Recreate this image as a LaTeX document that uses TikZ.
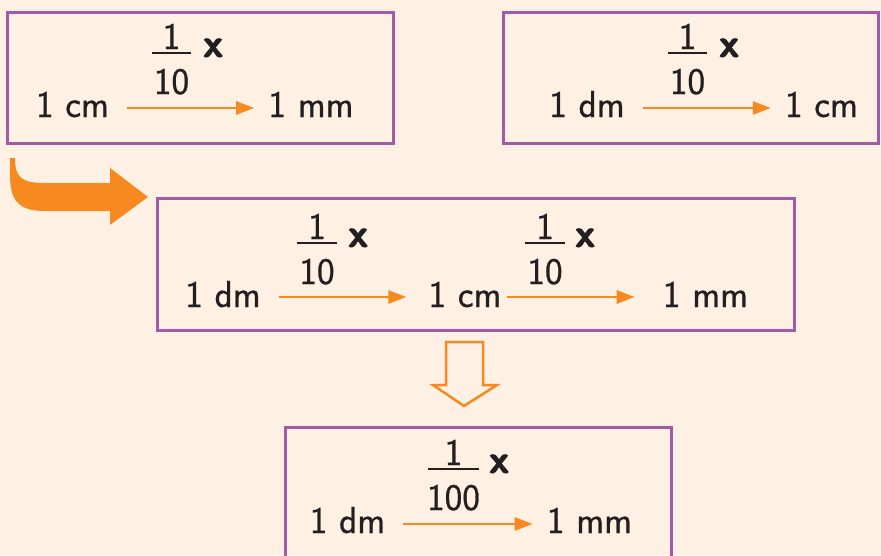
\documentclass[tikz,border=0pt]{standalone}
\usepackage{fontspec}
\usepackage{xcolor}
\usepackage{tikz}
\usetikzlibrary{positioning, arrows.meta, calc}
\newfontfamily\unitfont{Latin Modern Sans}[UprightFeatures={FakeBold=0.7}]
\newfontfamily\timesfont{Latin Modern Sans}[BoldFeatures={FakeBold=2}]
\definecolor{bgpeach}{HTML}{FEF0E3}
\definecolor{boxpurple}{HTML}{A35BA8}
\definecolor{convorange}{HTML}{F6891F}
\definecolor{inkblack}{HTML}{231F20}

\begin{document}
\begin{tikzpicture}[x=1pt, y=-1pt,
    unit/.style={font=\fontsize{37.5}{42}\unitfont, text=inkblack, inner sep=0pt, anchor=base},
    times/.style={font=\fontsize{40}{44}\timesfont\bfseries, text=inkblack, inner sep=0pt, anchor=base west},
    unitbox/.style={draw=boxpurple, line width=3pt},
    conv/.style={draw=convorange, line width=2.6pt, -{Triangle[length=18pt, width=13pt]},
      shorten <=18pt, shorten >=14pt},
    fracbar/.style={draw=inkblack, line width=2.2pt}]

    % page and background
    \useasboundingbox (0,0) rectangle (881,555);
    \clip (0,0) rectangle (881,555);
    \fill[bgpeach] (0,0) rectangle (881,555);

    % boxes
    \draw[unitbox] (7,12) rectangle (393,143);
    \draw[unitbox] (503,12) rectangle (878,143);
    \draw[unitbox] (157,198) rectangle (794,330);
    \draw[unitbox] (285,427) rectangle (671,575);

    % units
    \node[unit] (cm1) at (72.5,117) {1 cm};
    \node[unit] (mm1) at (311,117) {1 mm};
    \node[unit] (dm2) at (587,117) {1 dm};
    \node[unit] (cm2) at (821.5,117) {1 cm};
    \node[unit] (dm3) at (223,307) {1 dm};
    \node[unit] (cm3) at (465,307) {1 cm};
    \node[unit] (mm3) at (705.5,307) {1 mm};
    \node[unit] (dm4) at (347.5,533) {1 dm};
    \node[unit] (mm4) at (589.5,533) {1 mm};

    % conversions
    \draw[conv] ([yshift=9pt]cm1.base east) -- ([yshift=9pt]mm1.base west);
    \draw[conv] ([yshift=9pt]dm2.base east) -- ([yshift=9pt]cm2.base west);
    \draw[conv, shorten >=22pt] ([yshift=10pt]dm3.base east) -- ([yshift=10pt]cm3.base west);
    \draw[conv, shorten <=5pt, shorten >=28pt] ([yshift=10pt]cm3.base east) -- ([yshift=10pt]mm3.base west);
    \draw[conv] ([yshift=9pt]dm4.base east) -- ([yshift=9pt]mm4.base west);

    % factors
    \foreach \i/\cx/\yb/\hw/\den/\xx in {1/171.5/53/19.5/10/203, 2/687.5/53/19.5/10/719,
        3/317/243/20/10/348, 4/545/243/20/10/575, 5/453.5/469/25.5/100/489} {
      \node[unit] (num\i) at (\cx,\yb-4) {1};
      \node[unit] (den\i) at (\cx,\yb+41) {\den};
      \draw[fracbar] (\cx-\hw,\yb) -- (\cx+\hw,\yb);
      \node[times] (times\i) at (\xx,\yb+4) {x};
    }

    % bent arrow
    \fill[convorange] (10,158) -- (15,158) .. controls (15,178) and (22,183) .. (45,183)
      -- (110,183) -- (110,168) -- (148,197) -- (110,225) -- (110,211) -- (45,211)
      .. controls (18,211) and (10,200) .. (10,175) -- cycle;

    % hollow arrow
    \draw[convorange, line width=2.5pt, fill=bgpeach] (446,342) -- (483,342) -- (483,385)
      -- (497,385) -- (464,406) -- (433,385) -- (446,385) -- cycle;
\end{tikzpicture}
\end{document}
